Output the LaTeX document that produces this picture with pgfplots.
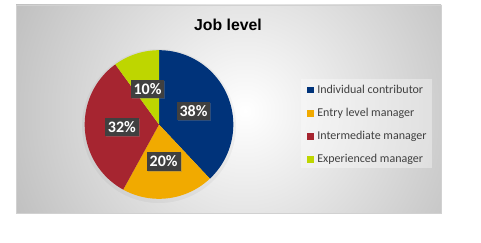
\documentclass[border=0pt]{standalone}
\usepackage{pgfplots}
\pgfplotsset{compat=1.18}
\usepackage{fontspec}
\setmainfont{Carlito}
\newfontfamily\titlefont{Liberation Sans}
\usetikzlibrary{shadows}
\definecolor{cBlue}{RGB}{0,51,122}
\definecolor{cOrange}{RGB}{241,170,0}
\definecolor{cRed}{RGB}{166,37,48}
\definecolor{cGreen}{RGB}{190,214,0}
\definecolor{legtext}{RGB}{64,64,64}
% data (percent)
\def\vA{38}\def\vB{20}\def\vC{32}\def\vD{10}
\pgfmathsetmacro\aA{90}
\pgfmathsetmacro\aB{\aA-3.6*\vA}
\pgfmathsetmacro\aC{\aB-3.6*\vB}
\pgfmathsetmacro\aD{\aC-3.6*\vC}
\pgfmathsetmacro\aE{\aD-3.6*\vD}
\pgfmathsetmacro\mA{(\aA+\aB)/2}
\pgfmathsetmacro\mB{(\aB+\aC)/2}
\pgfmathsetmacro\mC{(\aC+\aD)/2}
\pgfmathsetmacro\mD{(\aD+\aE)/2}
\begin{document}
\begin{tikzpicture}
\useasboundingbox (0pt,0pt) rectangle (481pt,243pt);
\begin{scope}
\clip (16pt,30pt) rectangle (441pt,238pt);
\shade[inner color=white, outer color=black!26] (245pt,132pt) circle (265pt);
\end{scope}
\draw[black!18, line width=0.6pt] (16pt,30pt) rectangle (441pt,238pt);
\node[font=\titlefont\bfseries\fontsize{15.8}{18}\selectfont, anchor=base] at (228pt,212pt) {Job level};
\fill[white, opacity=0.35] (301pt,75pt) rectangle (432pt,164pt);
\fill[black, opacity=0.04] (159pt,117pt) circle (77pt);
\begin{axis}[
  at={(159pt,118.5pt)}, anchor=center,
  scale only axis, width=148.6pt, height=148.6pt,
  xmin=-1, xmax=1, ymin=-1, ymax=1,
  hide axis, clip=false,
  legend style={at={(axis description cs:1.468,0.497)}, anchor=west,
    draw=none, fill=none, font=\fontsize{12}{14}\selectfont, text=legtext,
    row sep=10.2pt, inner xsep=4pt, inner ysep=3pt,
    nodes={inner sep=1pt, text height=8.5pt, text depth=2.5pt},
    /tikz/every odd column/.append style={column sep=2.5pt}},
  legend cell align=left,
  legend image code/.code={\fill[#1] (0pt,-3.3pt) rectangle (6.8pt,3.5pt);},
]
\addplot[fill=cBlue, draw=none, domain=\aB:\aA, samples=90] ({cos(x)},{sin(x)}) -- (0,0) -- cycle;
\addlegendentry{Individual contributor}
\addplot[fill=cOrange, draw=none, domain=\aC:\aB, samples=60] ({cos(x)},{sin(x)}) -- (0,0) -- cycle;
\addlegendentry{Entry level manager}
\addplot[fill=cRed, draw=none, domain=\aD:\aC, samples=80] ({cos(x)},{sin(x)}) -- (0,0) -- cycle;
\addlegendentry{Intermediate manager}
\addplot[fill=cGreen, draw=none, domain=\aE:\aD, samples=40] ({cos(x)},{sin(x)}) -- (0,0) -- cycle;
\addlegendentry{Experienced manager}
\tikzset{lbl/.style={fill=black!75, text=white, font=\bfseries\fontsize{16}{18}\selectfont,
  inner xsep=3pt, inner ysep=3.5pt, text height=11pt, text depth=0.5pt,
  drop shadow={shadow xshift=1pt, shadow yshift=-1pt, opacity=0.35}}}
\node[lbl] at (axis cs:{0.5*cos(\mA)},{0.5*sin(\mA)}) {\vA\%};
\node[lbl] at (axis cs:{0.5*cos(\mB)},{0.5*sin(\mB)}) {\vB\%};
\node[lbl] at (axis cs:{0.5*cos(\mC)},{0.5*sin(\mC)}) {\vC\%};
\node[lbl] at (axis cs:{0.5*cos(\mD)},{0.5*sin(\mD)}) {\vD\%};
\end{axis}
\end{tikzpicture}
\end{document}
